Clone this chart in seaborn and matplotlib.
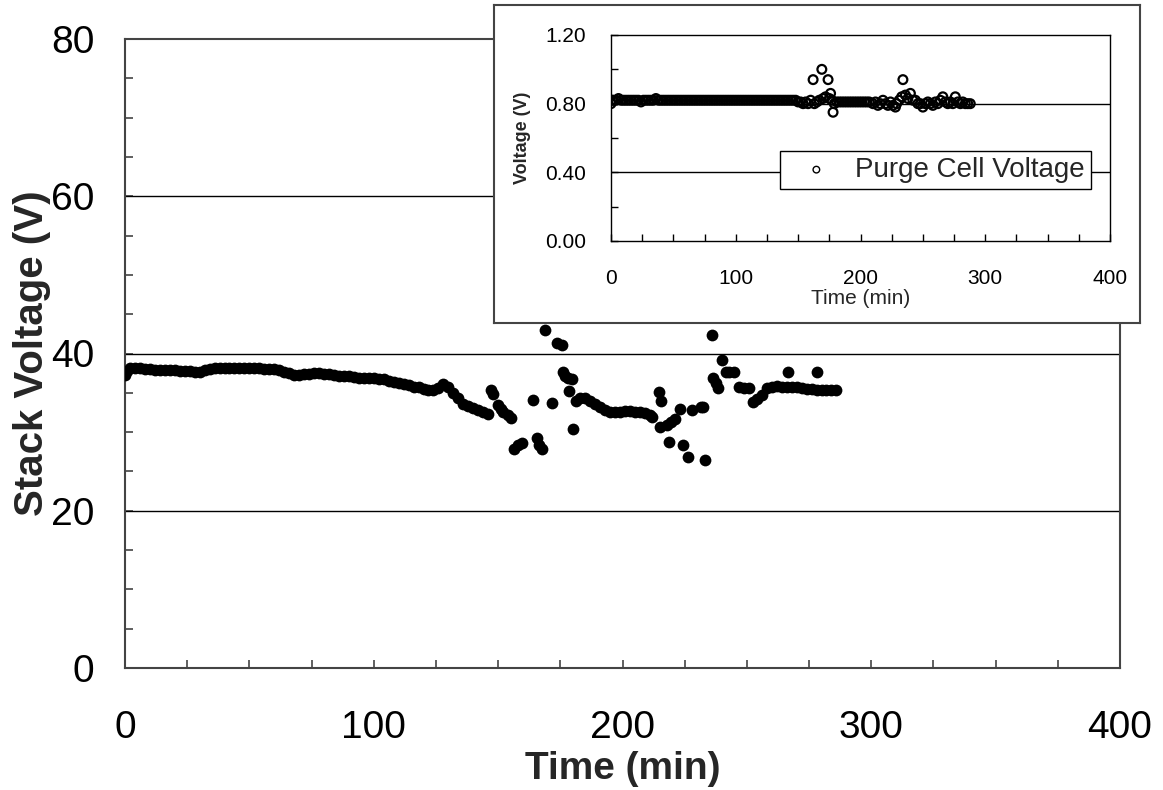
import matplotlib
matplotlib.use("Agg")
import matplotlib.pyplot as plt
from matplotlib.ticker import MultipleLocator, FormatStrFormatter
import seaborn as sns
import pandas as pd

# ---------------- data ----------------
stack_time = [0, 1, 2, 4, 6, 8, 10, 12, 14, 16, 18, 20, 22, 24, 26, 28, 30, 32, 34, 36,
              38, 40, 42, 44, 46, 48, 50, 52, 54, 56, 58, 60, 62, 64, 66, 68, 70, 72, 74, 76,
              78, 80, 82, 84, 86, 88, 90, 92, 94, 96, 98, 100, 102, 104, 106, 108, 110, 112, 114, 116,
              118, 120, 122, 124, 126, 128, 130, 132, 134, 136, 138, 140, 142, 144, 146,
              147, 148, 150, 151, 152, 154, 155, 156.5, 158, 159.5, 164, 165.5, 166.5, 167.5, 168.8,
              171.6, 173.7, 175.5, 176, 177, 178, 179.5, 178.5, 180, 181.5, 183, 185, 187, 189, 191,
              193, 195, 197, 199, 201, 203, 205, 207, 209, 211, 212, 214.5, 215.5, 215, 218, 219.5,
              221, 223, 228, 218.5, 224.5, 226.5, 233, 231.5, 232.5, 236, 236.5, 237.5, 238.5, 240,
              241.5, 243, 245, 247, 249, 251, 252.5, 254, 256, 258, 260, 262, 264, 266, 268,
              270, 272, 274, 276, 278, 280, 282, 284, 286, 266.5, 278.2]
stack_voltage = [37.3, 37.8, 38.2, 38.2, 38.1, 38.0, 38.0, 37.9, 37.9, 37.9, 37.9, 37.9, 37.8, 37.8, 37.8, 37.7, 37.7, 37.9, 38.0, 38.1,
                 38.1, 38.1, 38.1, 38.1, 38.1, 38.1, 38.1, 38.1, 38.1, 38.0, 38.0, 38.0, 37.9, 37.7, 37.5, 37.3, 37.3, 37.4, 37.4, 37.5,
                 37.5, 37.4, 37.4, 37.3, 37.2, 37.2, 37.2, 37.0, 36.9, 36.9, 36.9, 36.9, 36.8, 36.7, 36.5, 36.4, 36.3, 36.1, 36.0, 35.8,
                 35.7, 35.5, 35.4, 35.4, 35.6, 36.1, 35.7, 35.0, 34.3, 33.6, 33.3, 33.1, 32.8, 32.5, 32.3,
                 35.4, 34.9, 33.4, 33.0, 32.6, 32.2, 31.8, 27.9, 28.3, 28.6, 34.1, 29.3, 28.4, 27.9, 43.0,
                 33.7, 41.3, 41.1, 37.6, 37.2, 36.9, 36.7, 35.2, 30.4, 34.0, 34.3, 34.3, 34.0, 33.6, 33.2,
                 32.8, 32.6, 32.6, 32.6, 32.7, 32.7, 32.6, 32.5, 32.4, 32.2, 31.9, 35.1, 34.0, 30.7, 30.9, 31.3,
                 31.7, 32.9, 32.8, 28.7, 28.4, 26.8, 26.4, 33.2, 33.2, 42.4, 36.9, 36.2, 35.6, 39.2,
                 37.7, 37.6, 37.6, 35.7, 35.6, 35.6, 33.8, 34.2, 34.7, 35.6, 35.8, 35.9, 35.8, 35.8, 35.7,
                 35.7, 35.6, 35.5, 35.5, 35.4, 35.3, 35.3, 35.3, 35.3, 37.6, 37.6]

purge_time = [0, 1, 2, 4, 6, 8, 10, 12, 14, 16, 18, 20, 22, 24, 26, 28, 30, 32, 34, 36,
              38, 40, 42, 44, 46, 48, 50, 52, 54, 56, 58, 60, 62, 64, 66, 68, 70, 72, 74, 76,
              78, 80, 82, 84, 86, 88, 90, 92, 94, 96, 98, 100, 102, 104, 106, 108, 110, 112, 114, 116,
              118, 120, 122, 124, 126, 128, 130, 132, 134, 136, 138, 140, 142, 144, 146, 148, 150,
              152, 154, 156, 158, 160, 162, 163, 165, 167, 169, 170, 172, 174, 175, 176, 177, 178, 179,
              181, 183, 185, 187, 189, 191, 193, 195, 197, 199, 201, 203, 205, 207, 210, 212, 214, 216,
              218, 220, 222, 224, 226, 228, 229, 231, 233, 234, 236, 238, 240, 242, 244, 246, 248, 250,
              252, 254, 256, 258, 260, 262, 264, 266, 268, 270, 272, 274, 276, 278, 280, 282, 284, 286, 288]
purge_voltage = [0.80, 0.82, 0.82, 0.82, 0.83, 0.82, 0.82, 0.82, 0.82, 0.82, 0.82, 0.82, 0.82, 0.81, 0.82, 0.82, 0.82, 0.82, 0.82, 0.83,
                 0.82, 0.82, 0.82, 0.82, 0.82, 0.82, 0.82, 0.82, 0.82, 0.82, 0.82, 0.82, 0.82, 0.82, 0.82, 0.82, 0.82, 0.82, 0.82, 0.82,
                 0.82, 0.82, 0.82, 0.82, 0.82, 0.82, 0.82, 0.82, 0.82, 0.82, 0.82, 0.82, 0.82, 0.82, 0.82, 0.82, 0.82, 0.82, 0.82, 0.82,
                 0.82, 0.82, 0.82, 0.82, 0.82, 0.82, 0.82, 0.82, 0.82, 0.82, 0.82, 0.82, 0.82, 0.82, 0.82, 0.82, 0.81,
                 0.81, 0.80, 0.81, 0.80, 0.82, 0.94, 0.80, 0.81, 0.82, 1.00, 0.83, 0.84, 0.94, 0.83, 0.86, 0.82, 0.75, 0.80,
                 0.81, 0.81, 0.81, 0.81, 0.81, 0.81, 0.81, 0.81, 0.81, 0.81, 0.81, 0.81, 0.81, 0.81, 0.80, 0.81, 0.79, 0.80,
                 0.82, 0.80, 0.79, 0.81, 0.79, 0.78, 0.80, 0.82, 0.84, 0.94, 0.85, 0.83, 0.86, 0.82, 0.82, 0.80, 0.80, 0.78,
                 0.80, 0.81, 0.80, 0.79, 0.81, 0.80, 0.82, 0.84, 0.81, 0.80, 0.81, 0.80, 0.84, 0.81, 0.80, 0.81, 0.80, 0.80, 0.80]

main_yticks = [0, 20, 40, 60, 80]
main_xticks = [0, 100, 200, 300, 400]
inset_yticks = [0.0, 0.4, 0.8, 1.2]
inset_xticks = [0, 100, 200, 300, 400]

stack_df = pd.DataFrame({"Time (min)": stack_time, "Stack Voltage (V)": stack_voltage})
purge_df = pd.DataFrame({"Time (min)": purge_time, "Voltage (V)": purge_voltage})

# ---------------- style ----------------
sns.set_theme(style="white")
plt.rcParams["font.family"] = ["Liberation Sans", "DejaVu Sans"]

W, H = 1163, 790
fig = plt.figure(figsize=(W / 100, H / 100), dpi=100)
fig.patch.set_facecolor("white")

def fx(px):
    return px / W

def fy(py):
    return 1 - py / H

spine_col = "#444444"

# ---------------- main axes ----------------
ax = fig.add_axes([fx(125), fy(668), fx(1120) - fx(125), fy(39) - fy(668)])
ax.set_xlim(0, 400)
ax.set_ylim(0, 80)
for y in main_yticks[1:-1]:
    ax.axhline(y, color="black", lw=1.0, zorder=1)
sns.scatterplot(data=stack_df, x="Time (min)", y="Stack Voltage (V)", ax=ax,
                color="black", s=72, linewidth=0, marker="o", zorder=3, legend=False)
ax.set_xticks(main_xticks)
ax.set_yticks(main_yticks)
ax.xaxis.set_minor_locator(MultipleLocator(25))
ax.yaxis.set_minor_locator(MultipleLocator(5))
ax.tick_params(axis="both", which="both", direction="in", length=6, width=1.2,
               color=spine_col, labelsize=28, labelcolor="black",
               bottom=True, left=True, top=False, right=False)
ax.tick_params(axis="x", which="major", pad=30)
ax.tick_params(axis="y", which="major", pad=22)
for s in ax.spines.values():
    s.set_color(spine_col)
    s.set_linewidth(1.5)
ax.set_xlabel("Time (min)", fontsize=28, fontweight="bold", labelpad=4)
ax.set_ylabel("Stack Voltage (V)", fontsize=29, fontweight="bold", labelpad=0)

# ---------------- inset frame ----------------
frame = fig.add_axes([fx(494), fy(323), fx(1140) - fx(494), fy(5) - fy(323)])
frame.set_xticks([])
frame.set_yticks([])
frame.set_facecolor("white")
for s in frame.spines.values():
    s.set_color(spine_col)
    s.set_linewidth(1.5)

# ---------------- inset axes ----------------
iax = fig.add_axes([fx(611), fy(241), fx(1110) - fx(611), fy(35) - fy(241)])
iax.set_xlim(0, 400)
iax.set_ylim(0, 1.2)
for y in inset_yticks[1:-1]:
    iax.axhline(y, color="black", lw=1.0, zorder=1)
sns.scatterplot(data=purge_df, x="Time (min)", y="Voltage (V)", ax=iax,
                marker="o", s=40, facecolor="none", edgecolor="black", linewidth=1.6,
                zorder=3, label="Purge Cell Voltage")
iax.set_xticks(inset_xticks)
iax.set_yticks(inset_yticks)
iax.yaxis.set_major_formatter(FormatStrFormatter("%.2f"))
iax.xaxis.set_minor_locator(MultipleLocator(25))
iax.yaxis.set_minor_locator(MultipleLocator(0.2))
iax.tick_params(axis="both", which="both", direction="in", length=5, width=1,
                color="black", labelsize=15, labelcolor="black",
                bottom=True, left=True, top=False, right=False)
iax.tick_params(axis="x", which="major", pad=20)
iax.tick_params(axis="y", which="major", pad=18)
for s in iax.spines.values():
    s.set_color("black")
    s.set_linewidth(1.0)
iax.set_xlabel("Time (min)", fontsize=15, labelpad=1)
iax.set_ylabel("Voltage (V)", fontsize=13, fontweight="bold", labelpad=10)
leg = iax.legend(loc="center", bbox_to_anchor=(0.65, 0.345), fontsize=20, frameon=True,
                 fancybox=False, edgecolor="black", framealpha=1, borderpad=0.22,
                 handletextpad=0.3, handlelength=2.2, markerscale=0.75)
leg.get_frame().set_linewidth(1.0)
leg.set_zorder(5)
for h in leg.legend_handles:
    h.set_linewidth(1.0)

fig.savefig("out.png", dpi=100, facecolor="white")
